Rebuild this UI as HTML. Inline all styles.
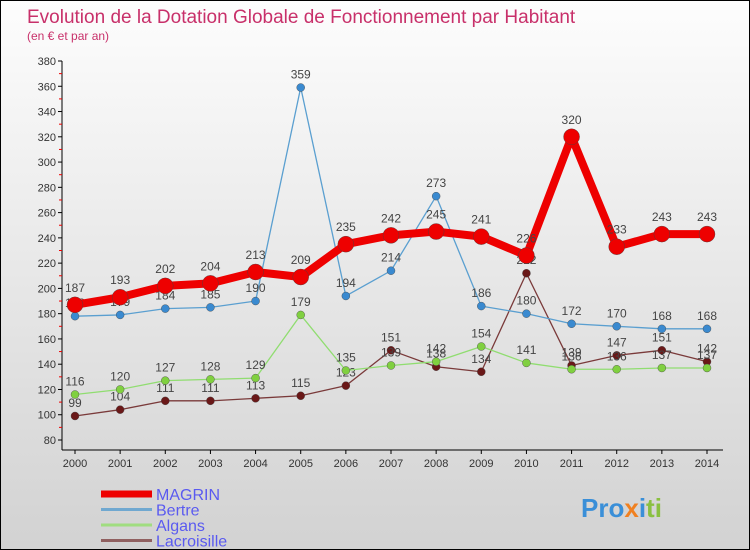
<!DOCTYPE html>
<html><head><meta charset="utf-8"><style>
body{margin:0;}
#c{position:relative;width:748px;height:548px;border:1px solid #000;background:linear-gradient(#fdfdfd,#d2d2d2);overflow:hidden;font-family:"Liberation Sans",sans-serif;}
svg{position:absolute;left:0;top:0}
</style></head><body>
<div id="c">
<svg id="s" width="748" height="548">
<text x="26" y="22" font-size="19" fill="#c8306a">Evolution de la Dotation Globale de Fonctionnement par Habitant</text>
<text x="26" y="39" font-size="12" fill="#c8306a">(en € et par an)</text>
<text x="580" y="516" font-size="26" font-weight="bold" fill="#3a8fd8">Pro<tspan fill="#f08020">x</tspan><tspan fill="#3a8fd8">i</tspan><tspan fill="#8ac040">ti</tspan></text>
</svg>
</div>
<script>
const years=[2000,2001,2002,2003,2004,2005,2006,2007,2008,2009,2010,2011,2012,2013,2014];
const magrin=[187,193,202,204,213,209,235,242,245,241,226,320,233,243,243];
const bertre=[178,179,184,185,190,359,194,214,273,186,180,172,170,168,168];
const algans=[116,120,127,128,129,179,135,139,142,154,141,136,136,137,137];
const lacroisille=[99,104,111,111,113,115,123,151,138,134,212,139,147,151,142];
const yTicks=[80,100,120,140,160,180,200,220,240,260,280,300,320,340,360,380];
const NS="http://www.w3.org/2000/svg";
const svg=document.getElementById('s');
const X=i=>74+i*(632/14);
const Y=v=>439-(v-80)*(379/300);
function mk(t,a,p){const e=document.createElementNS(NS,t);for(const k in a)e.setAttribute(k,a[k]);(p||svg).appendChild(e);return e;}
const ax=mk('g',{});


mk('line',{x1:61,y1:Y(380),x2:61,y2:449,stroke:'#000'},ax);
mk('line',{x1:61,y1:449,x2:722,y2:449,stroke:'#000'},ax);
for(let v=90;v<380;v+=20){mk('line',{x1:58,y1:Y(v),x2:61,y2:Y(v),stroke:'#e00'},ax);}
yTicks.forEach(v=>{mk('line',{x1:57,y1:Y(v),x2:61,y2:Y(v),stroke:'#000'},ax);
const t=mk('text',{x:55,y:Y(v)+4,'text-anchor':'end','font-size':11,fill:'#333'},ax);t.textContent=v;

});
years.forEach((yr,i)=>{mk('line',{x1:X(i),y1:449,x2:X(i),y2:453,stroke:'#000'},ax);
const t=mk('text',{x:X(i),y:466,'text-anchor':'middle','font-size':11,fill:'#333'},ax);t.textContent=yr;

});
function series(name,vals,color,w,r,dot){
const g=mk('g',{});


mk('polyline',{points:vals.map((v,i)=>X(i)+','+Y(v)).join(' '),fill:'none',stroke:color,'stroke-width':w,'stroke-linejoin':'round'},g);
vals.forEach((v,i)=>{const c=mk('circle',{cx:X(i),cy:Y(v),r:r,fill:dot,stroke:'#444','stroke-width':0.4},g);


const t=mk('text',{x:X(i),y:Y(v)-(r+5),'text-anchor':'middle','font-size':12,fill:'#444'},g);t.textContent=v;

});}
series('lacroisille',lacroisille,'#7a3a3a',1.3,4,'#6a1818');
series('algans',algans,'#90dd70',1.3,4,'#80d040');
series('bertre',bertre,'#5a9fd0',1.3,4,'#3a8ad0');
series('magrin',magrin,'#ee0000',8,8,'#ee0000');
const leg=[['MAGRIN','#ee0000',7],['Bertre','#70a8d0',3],['Algans','#a0dd80',3],['Lacroisille','#906060',3]];
leg.forEach((l,i)=>{const g=mk('g',{});


const y=493+i*15.5;
mk('line',{x1:100,y1:y,x2:151,y2:y,stroke:l[1],'stroke-width':l[2]},g);
const t=mk('text',{x:155,y:y+6,'font-size':16,fill:'#5a5af0'},g);t.textContent=l[0];});
</script>
</body></html>
